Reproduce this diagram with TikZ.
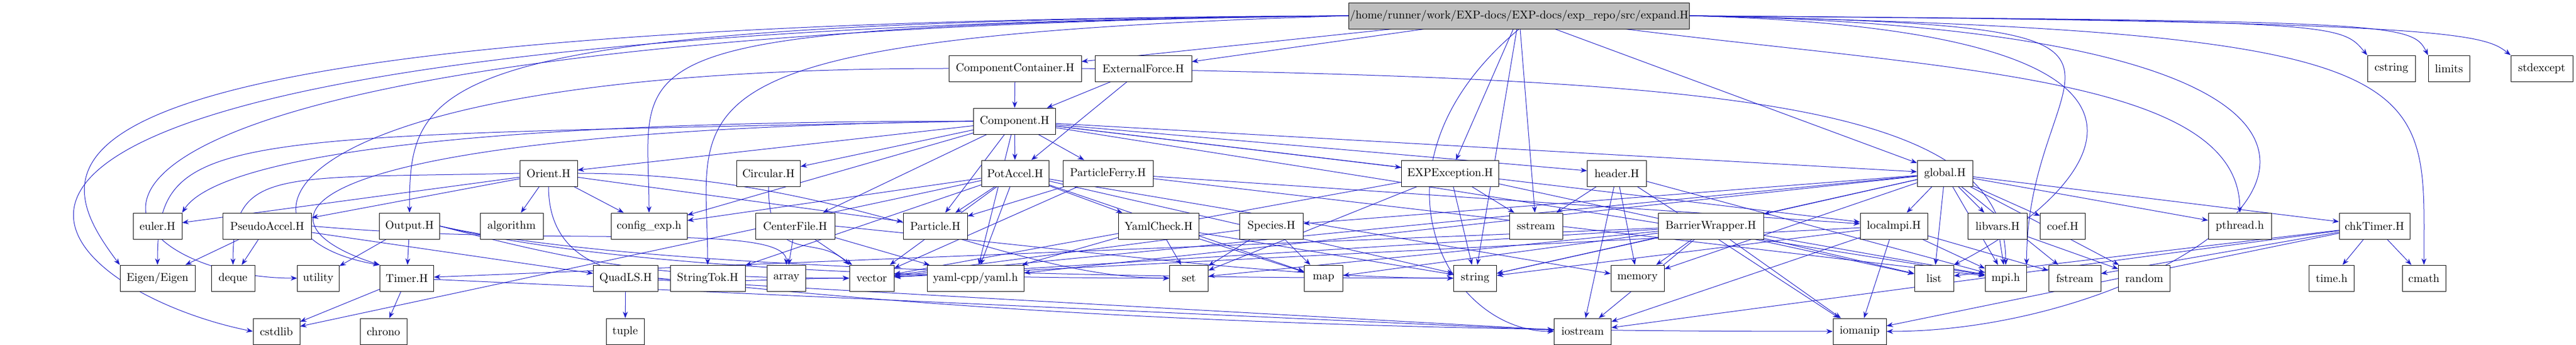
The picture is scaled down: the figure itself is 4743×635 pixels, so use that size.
\documentclass[tikz,border=0pt]{standalone}
\usetikzlibrary{arrows.meta}
\definecolor{edgeblue}{RGB}{30,30,200}
\definecolor{maingray}{RGB}{191,191,191}
\tikzset{
  x=0.5pt,y=-0.5pt,
  box/.style={draw=black,fill=white,rectangle,minimum height=24pt,inner sep=1pt,font=\fontsize{10.5}{12}\selectfont},
  edge/.style={draw=edgeblue,line width=0.5pt,-{Stealth[length=6pt,width=4.5pt]}},
}
\newcommand\bx[5]{\node[box,minimum width=#4*0.5pt] (#1) at (#2,#3) {#5};}
\begin{document}
\begin{tikzpicture}
\useasboundingbox (0,0) rectangle (4743,635);
% edges first drawn below nodes via layering
\pgfdeclarelayer{bg}\pgfsetlayers{bg,main}
% row 1
\node[box,fill=maingray,minimum width=307.5pt] (main) at (2797,29) {/home/runner/work/EXP-docs/EXP-docs/exp\_repo/src/expand.H};
% row 2
\bx{cc}{1869}{126}{244}{ComponentContainer.H}
\bx{ef}{2105}{126}{178}{ExternalForce.H}
\bx{cstring}{4403}{126}{88}{cstring}
\bx{limits}{4509}{126}{76}{limits}
\bx{stdexcept}{4680}{126}{114}{stdexcept}
% row 3
\bx{comp}{1868}{223}{151}{Component.H}
% row 4
\bx{orient}{1010}{319}{106}{Orient.H}
\bx{circ}{1415}{319}{117}{Circular.H}
\bx{pot}{1869}{319}{124}{PotAccel.H}
\bx{pf}{2040}{319}{166}{ParticleFerry.H}
\bx{exc}{2670}{319}{179}{EXPException.H}
\bx{header}{2977}{319}{109}{header.H}
\bx{global}{3581}{319}{102}{global.H}
% row 5
\bx{euler}{290}{416}{90}{euler.H}
\bx{pseudo}{492}{416}{163}{PseudoAccel.H}
\bx{output}{754}{416}{111}{Output.H}
\bx{algo}{942}{416}{116}{algorithm}
\bx{config}{1195}{416}{140}{config\_exp.h}
\bx{center}{1464}{416}{146}{CenterFile.H}
\bx{particle}{1722}{416}{118}{Particle.H}
\bx{yamlcheck}{2133}{416}{148}{YamlCheck.H}
\bx{species}{2341}{416}{117}{Species.H}
\bx{sstream}{2828}{416}{98}{sstream}
\bx{barrier}{3150}{416}{194}{BarrierWrapper.H}
\bx{localmpi}{3487}{416}{124}{localmpi.H}
\bx{libvars}{3678}{416}{109}{libvars.H}
\bx{coef}{3798}{416}{83}{coef.H}
\bx{pthread}{4124}{416}{116}{pthread.h}
\bx{chk}{4372}{416}{130}{chkTimer.H}
% row 6
\bx{eigen}{290}{512}{138}{Eigen/Eigen}
\bx{deque}{429}{512}{80}{deque}
\bx{utility}{586}{512}{77}{utility}
\bx{timer}{749}{512}{99}{Timer.H}
\bx{quadls}{1152}{512}{119}{QuadLS.H}
\bx{stringtok}{1303}{512}{138}{StringTok.H}
\bx{array}{1448}{512}{71}{array}
\bx{vector}{1605}{512}{82}{vector}
\bx{yaml}{1796}{512}{178}{yaml-cpp/yaml.h}
\bx{set}{2189}{512}{71}{set}
\bx{map}{2437}{512}{71}{map}
\bx{string}{2716}{512}{79}{string}
\bx{memory}{3015}{512}{98}{memory}
\bx{list}{3561}{512}{72}{list}
\bx{mpi}{3693}{512}{76}{mpi.h}
\bx{fstream}{3820}{512}{96}{fstream}
\bx{random}{3948}{512}{95}{random}
\bx{time}{4293}{512}{83}{time.h}
\bx{cmath}{4463}{512}{80}{cmath}
% row 7
\bx{cstdlib}{509}{610}{86}{cstdlib}
\bx{chrono}{706}{610}{86}{chrono}
\bx{tuple}{1151}{610}{70}{tuple}
\bx{iostream}{2914}{610}{105}{iostream}
\bx{iomanip}{3424}{610}{98}{iomanip}

\begin{pgfonlayer}{bg}
% edges from main
\draw[edge] (main) -- (cc);
\draw[edge] (main) -- (ef);
\draw[edge] (main.west) .. controls +(-1700,10) and +(0,-250) .. (output.north);
\draw[edge] (main.west) .. controls +(-2500,10) and +(-150,-200) .. (eigen.north west);
\draw[edge] (main.west) .. controls +(-3000,25) and +(-400,-80) .. (cstdlib.west);
\draw[edge] (main.west) .. controls +(-2700,30) and +(-400,0) .. (utility.west);
\draw[edge] (main.west) .. controls +(-1400,20) and +(0,-300) .. (config.north);
\draw[edge] (main.west) .. controls +(-1300,40) and +(0,-300) .. (stringtok.north);
\draw[edge] (main) -- (exc);
\draw[edge] (main) -- (global);
\draw[edge] (main) -- (string);
\draw[edge] (main) -- (sstream);
\draw[edge] (main.south) .. controls +(-300,250) and +(-200,0) .. (iostream.west);
\draw[edge] (main.east) .. controls +(1200,10) and +(-50,-60) .. (cstring.north west);
\draw[edge] (main.east) .. controls +(1300,10) and +(-30,-60) .. (limits.north west);
\draw[edge] (main.east) .. controls +(1400,10) and +(-50,-40) .. (stdexcept.north west);
\draw[edge] (main.east) .. controls +(1400,30) and +(0,-350) .. (cmath.north);
\draw[edge] (main.east) .. controls +(1700,30) and +(600,0) .. (iomanip.east);
\draw[edge] (main.east) .. controls +(1000,20) and +(0,-400) .. (mpi.north east);
\draw[edge] (main.east) .. controls +(1100,30) and +(200,-100) .. (list.north east);
\draw[edge] (main) .. controls +(800,100) and +(0,-250) .. (pthread.north);
% ComponentContainer
\draw[edge] (cc) -- (comp);
\draw[edge] (cc.west) .. controls +(-1300,0) and +(-300,-50) .. (timer.north west);
\draw[edge] (cc.east) .. controls +(1200,20) and +(0,-300) .. (mpi.north);
% ExternalForce
\draw[edge] (ef) -- (comp);
\draw[edge] (ef) -- (pot);
% Component
\draw[edge] (comp) -- (pot);
\draw[edge] (comp) -- (pf);
\draw[edge] (comp) -- (exc);
\draw[edge] (comp) -- (header);
\draw[edge] (comp) -- (orient);
\draw[edge] (comp) -- (circ);
\draw[edge] (comp) -- (center);
\draw[edge] (comp) -- (config);
\draw[edge] (comp) -- (global);
\draw[edge] (comp) -- (localmpi);
\draw[edge] (comp) -- (particle);
\draw[edge] (comp) -- (yaml);
\draw[edge] (comp.west) .. controls +(-1300,20) and +(-250,-80) .. (timer.north west);
\draw[edge] (comp.west) .. controls +(-1100,0) and +(50,-80) .. (euler.north east);
\draw[edge] (comp.west) .. controls +(-1400,30) and +(0,-250) .. (eigen.north);
\draw[edge] (comp) -- (mpi);
% Orient
\draw[edge] (orient) -- (euler);
\draw[edge] (orient) -- (pseudo);
\draw[edge] (orient) -- (algo);
\draw[edge] (orient) -- (config);
\draw[edge] (orient) -- (particle);
\draw[edge] (orient.west) .. controls +(-450,10) and +(0,-180) .. (deque.north);
\draw[edge] (orient.south) .. controls +(0,220) and +(-250,0) .. (vector.west);
\draw[edge] (orient.east) .. controls +(500,0) and +(-300,0) .. (set.west);
% Pseudo
\draw[edge] (pseudo) -- (eigen);
\draw[edge] (pseudo) -- (deque);
\draw[edge] (pseudo) -- (quadls);
\draw[edge] (pseudo.east) .. controls +(450,40) and +(0,-80) .. (array.north);
% Output
\draw[edge] (output) -- (timer);
\draw[edge] (output) -- (utility);
\draw[edge] (output.east) .. controls +(300,80) and +(-300,0) .. (vector.west);
\draw[edge] (output.east) .. controls +(400,90) and +(-400,0) .. (string.west);
\draw[edge] (output.east) .. controls +(350,85) and +(-350,0) .. (set.west);
% Circular, CenterFile
\draw[edge] (circ.south) .. controls +(0,150) and +(-60,-60) .. (vector.north west);
\draw[edge] (center) -- (array);
\draw[edge] (center) -- (vector);
\draw[edge] (center) -- (yaml);
\draw[edge] (center.east) .. controls +(500,50) and +(-300,0) .. (string.west);
% Timer, QuadLS
\draw[edge] (timer) -- (cstdlib);
\draw[edge] (timer) -- (chrono);
\draw[edge] (timer) -- (iostream);
\draw[edge] (quadls) -- (tuple);
\draw[edge] (quadls) -- (iostream);
\draw[edge] (quadls.east) .. controls +(800,90) and +(-500,0) .. (iomanip.west);
% PotAccel
\draw[edge] (pot) -- (particle);
\draw[edge] (pot) -- (yaml);
\draw[edge] (pot) -- (yamlcheck);
\draw[edge] (pot) -- (map);
\draw[edge] (pot) -- (string);
\draw[edge] (pot) -- (memory);
\draw[edge] (pot) -- (config);
\draw[edge] (pot) -- (stringtok);
\draw[edge] (pot) -- (cstdlib);
\draw[edge] (pot) -- (vector);
% ParticleFerry
\draw[edge] (pf) -- (particle);
\draw[edge] (pf) -- (vector);
\draw[edge] (pf) -- (localmpi);
\draw[edge] (pf) -- (mpi);
% EXPException
\draw[edge] (exc) -- (sstream);
\draw[edge] (exc) -- (string);
\draw[edge] (exc) -- (vector);
\draw[edge] (exc) -- (set);
\draw[edge] (exc) -- (list);
% header
\draw[edge] (header) -- (sstream);
\draw[edge] (header) -- (memory);
\draw[edge] (header) -- (iostream);
\draw[edge] (header) -- (iomanip);
\draw[edge] (header) -- (mpi);
% YamlCheck, Species
\draw[edge] (yamlcheck) -- (set);
\draw[edge] (yamlcheck) -- (yaml);
\draw[edge] (yamlcheck) -- (map);
\draw[edge] (yamlcheck) -- (string);
\draw[edge] (species) -- (set);
\draw[edge] (species) -- (map);
\draw[edge] (species) -- (vector);
% BarrierWrapper
\draw[edge] (barrier) -- (vector);
\draw[edge] (barrier) -- (string);
\draw[edge] (barrier) -- (map);
\draw[edge] (barrier) -- (memory);
\draw[edge] (barrier) -- (iostream);
\draw[edge] (barrier) -- (iomanip);
\draw[edge] (barrier) -- (list);
\draw[edge] (barrier) -- (mpi);
\draw[edge] (barrier) -- (set);
\draw[edge] (barrier) -- (timer);
% global
\draw[edge] (global) -- (localmpi);
\draw[edge] (global) -- (libvars);
\draw[edge] (global) -- (coef);
\draw[edge] (global) -- (pthread);
\draw[edge] (global) -- (chk);
\draw[edge] (global) -- (barrier);
\draw[edge] (global) -- (species);
\draw[edge] (global) -- (list);
\draw[edge] (global) -- (mpi);
\draw[edge] (global) -- (fstream);
\draw[edge] (global) -- (random);
\draw[edge] (global) -- (string);
\draw[edge] (global) -- (vector);
\draw[edge] (global) -- (memory);
\draw[edge] (global) -- (yaml);
% localmpi
\draw[edge] (localmpi) -- (mpi);
\draw[edge] (localmpi) -- (iostream);
\draw[edge] (localmpi) -- (iomanip);
\draw[edge] (localmpi) -- (fstream);
\draw[edge] (localmpi) -- (string);
\draw[edge] (localmpi) -- (vector);
% libvars
\draw[edge] (libvars) -- (mpi);
\draw[edge] (libvars) -- (random);
% chkTimer
\draw[edge] (chk) -- (time);
\draw[edge] (chk) -- (cmath);
\draw[edge] (chk) -- (iomanip);
\draw[edge] (chk) -- (iostream);
\draw[edge] (chk) -- (fstream);
\draw[edge] (chk) -- (list);
\end{pgfonlayer}
\end{tikzpicture}
\end{document}
